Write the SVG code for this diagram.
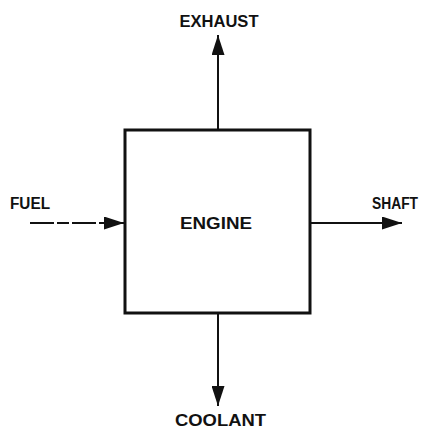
<svg xmlns="http://www.w3.org/2000/svg" width="424" height="428" viewBox="0 0 424 428">
<defs>
<style>
.lbl{font-family:"Liberation Sans","DejaVu Sans",sans-serif;font-weight:bold;font-size:16px;fill:#111}
.ln{stroke:#111;stroke-width:2;fill:none}
</style>
<marker id="ah" viewBox="0 0 20 13" refX="20" refY="6.5" markerWidth="20" markerHeight="13" markerUnits="userSpaceOnUse" orient="auto">
<path d="M0,0 L20,6.5 L0,13 Z" fill="#111"/>
</marker>
</defs>
<rect width="424" height="428" fill="#fff"/>
<g id="engine">
<rect x="125" y="130" width="185" height="183" fill="none" stroke="#111" stroke-width="3"/>
<text class="lbl" x="216" y="229" text-anchor="middle" textLength="72" lengthAdjust="spacingAndGlyphs">ENGINE</text>
</g>
<g id="labels">
<text class="lbl" x="219" y="27" text-anchor="middle" textLength="79" lengthAdjust="spacingAndGlyphs">EXHAUST</text>
<text class="lbl" x="10" y="209" textLength="40" lengthAdjust="spacingAndGlyphs">FUEL</text>
<text class="lbl" x="372" y="209" textLength="46" lengthAdjust="spacingAndGlyphs">SHAFT</text>
<text class="lbl" x="175" y="426" textLength="91" lengthAdjust="spacingAndGlyphs">COOLANT</text>
</g>
<g id="connectors">
<line class="ln" x1="218" y1="130" x2="218" y2="35" marker-end="url(#ah)"/>
<line class="ln" x1="30" y1="223" x2="124" y2="223" stroke-dasharray="24,3,12,3" marker-end="url(#ah)"/>
<line class="ln" x1="311" y1="223" x2="402" y2="223" marker-end="url(#ah)"/>
<line class="ln" x1="218" y1="313" x2="218" y2="406" marker-end="url(#ah)"/>
</g>
</svg>
